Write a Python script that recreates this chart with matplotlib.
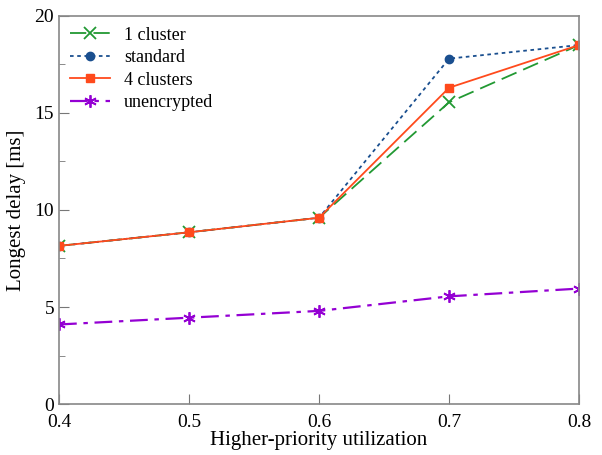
import matplotlib.pyplot as plt
from matplotlib.ticker import MultipleLocator

# datos
utilizacion = [0.4, 0.5, 0.6, 0.7, 0.8]
un_cluster = [8.15, 8.85, 9.6, 15.55, 18.5]
estandar = [8.15, 8.85, 9.6, 17.8, 18.5]
cuatro_clusters = [8.15, 8.85, 9.6, 16.3, 18.5]
sin_cifrar = [4.1, 4.45, 4.8, 5.55, 5.95]

plt.rcParams['font.family'] = ['Liberation Serif', 'DejaVu Serif']

fig = plt.figure(figsize=(6.02, 4.55), dpi=100)
ax = fig.add_axes([0.098, 0.112, 0.864, 0.853])

ax.plot(utilizacion, un_cluster, color='#229933', ls=(0, (9, 4)), lw=1.3,
        marker='x', ms=8, mew=1.3, label='1 cluster')
ax.plot(utilizacion, estandar, color='#1a4f8f', ls=(0, (2, 2)), lw=1.3,
        marker='o', ms=6, label='standard')
ax.plot(utilizacion, cuatro_clusters, color='#ff4a1c', ls='-', lw=1.3,
        marker='s', ms=6, label='4 clusters')
# asterisco de 6 puntas como en el original
ax.plot(utilizacion, sin_cifrar, color='#9400d3', ls=(0, (8, 3, 2, 3)), lw=1.6,
        marker=(6, 2, 0), ms=9, mew=1.3, label='unencrypted')

ax.set_xlim(0.4, 0.8)
ax.set_ylim(0, 20)
ax.set_xticks([0.4, 0.5, 0.6, 0.7, 0.8])
ax.set_yticks([0, 5, 10, 15, 20])
ax.yaxis.set_minor_locator(MultipleLocator(2.5))
ax.tick_params(direction='in', length=7, color='#777777', labelsize=14)
ax.tick_params(axis='x', pad=7)
ax.tick_params(which='minor', direction='in', length=4, color='#777777')
for s in ax.spines.values():
    s.set_color('#888888')
    s.set_linewidth(1.2)

ax.set_xlabel('Higher-priority utilization', fontsize=15, labelpad=0)
ax.set_ylabel('Longest delay [ms]', fontsize=15, labelpad=6)

ax.legend(loc='upper left', frameon=False, fontsize=13, handlelength=2.2,
          borderaxespad=0.2, labelspacing=0.3)

plt.savefig('out.png', dpi=100)
